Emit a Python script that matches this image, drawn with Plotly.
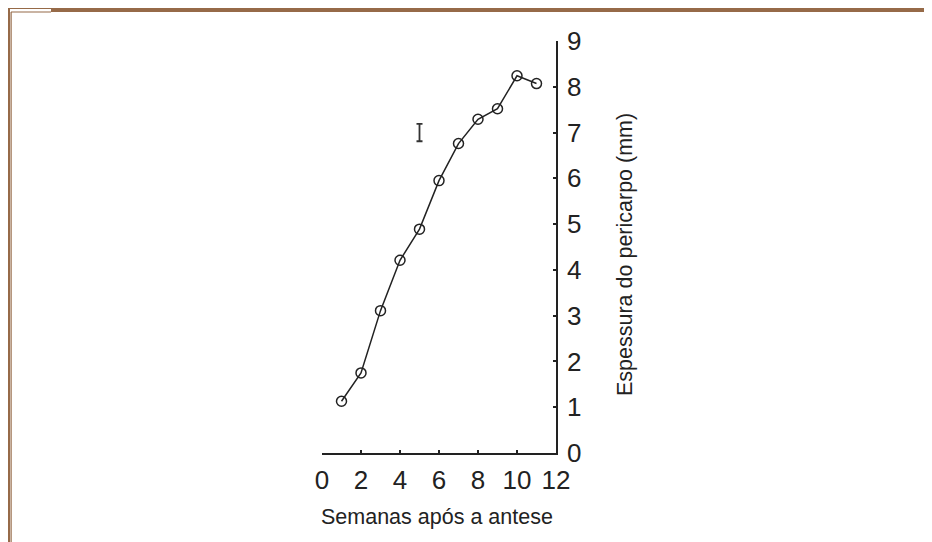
import plotly.graph_objects as go

# Data
weeks = [1, 2, 3, 4, 5, 6, 7, 8, 9, 10, 11]
thickness = [1.13, 1.75, 3.11, 4.21, 4.89, 5.95, 6.76, 7.29, 7.52, 8.24, 8.07]
se_x = [5]
se_y = [7.0]
se_val = [0.19]
x_ticks = [0, 2, 4, 6, 8, 10, 12]
y_ticks = [0, 1, 2, 3, 4, 5, 6, 7, 8, 9]

OFF = 8  # browser body margin
W, H = 932, 542
L, R, T, B = 322 - OFF, 556 - OFF, 41 - OFF, 453 - OFF
BROWN = "rgb(150,106,72)"
INK = "#222222"


def px(x):
    return (x - OFF - L) / (R - L)


def py(y):
    return (B - (y - OFF)) / (B - T)


fig = go.Figure()
fig.add_trace(go.Scatter(
    x=weeks, y=thickness, mode="lines+markers",
    line=dict(color=INK, width=1.5),
    marker=dict(symbol="circle-open", size=10, color=INK, line=dict(width=1.5)),
    showlegend=False, cliponaxis=False,
))
fig.add_trace(go.Scatter(
    x=se_x, y=se_y, mode="markers",
    marker=dict(size=1, color="rgba(0,0,0,0)"),
    error_y=dict(type="data", array=se_val, symmetric=True, color="#333333", thickness=1.8, width=3),
    showlegend=False,
))

fig.update_layout(
    width=W, height=H,
    margin=dict(l=L, r=W - R, t=T, b=H - B, pad=0),
    paper_bgcolor="white", plot_bgcolor="white",
    font=dict(family="Liberation Sans, Arial, sans-serif", color=INK),
    xaxis=dict(range=[0, 12], tickvals=x_ticks, ticks="inside", ticklen=3, tickwidth=2,
               tickcolor=INK, showline=True, linecolor=INK, linewidth=1.5,
               showgrid=False, zeroline=False, ticklabelstandoff=3,
               tickfont=dict(size=26, color=INK)),
    yaxis=dict(range=[0, 9], tickvals=y_ticks, side="right", ticks="inside", ticklen=3,
               tickwidth=2, tickcolor=INK, showline=True, linecolor=INK, linewidth=1.5,
               showgrid=False, zeroline=False, ticklabelstandoff=4,
               tickfont=dict(size=26, color=INK)),
    annotations=[
        dict(text="Semanas após a antese", xref="paper", yref="paper",
             x=px(437), y=py(517), showarrow=False, font=dict(size=21.5, color=INK),
             xanchor="center", yanchor="middle"),
        dict(text="Espessura do pericarpo (mm)", xref="paper", yref="paper",
             x=px(625), y=py(255), showarrow=False, textangle=-90,
             font=dict(size=21.5, color=INK), xanchor="center", yanchor="middle"),
    ],
    shapes=[
        dict(type="rect", xref="paper", yref="paper", x0=px(51), x1=px(W + OFF), y0=py(8), y1=py(12),
             fillcolor=BROWN, line=dict(width=0), layer="above"),
        dict(type="rect", xref="paper", yref="paper", x0=px(8), x1=px(51), y0=py(8), y1=py(9),
             fillcolor=BROWN, line=dict(width=0), layer="above"),
        dict(type="rect", xref="paper", yref="paper", x0=px(11), x1=px(51), y0=py(11.5), y1=py(12.5),
             fillcolor=BROWN, line=dict(width=0), layer="above"),
        dict(type="rect", xref="paper", yref="paper", x0=px(8), x1=px(10), y0=py(8), y1=py(H + OFF),
             fillcolor=BROWN, line=dict(width=0), layer="above"),
        dict(type="rect", xref="paper", yref="paper", x0=px(10.5), x1=px(11.7), y0=py(12), y1=py(H + OFF),
             fillcolor=BROWN, line=dict(width=0), layer="above"),
    ],
)

fig.write_html("out.html")
